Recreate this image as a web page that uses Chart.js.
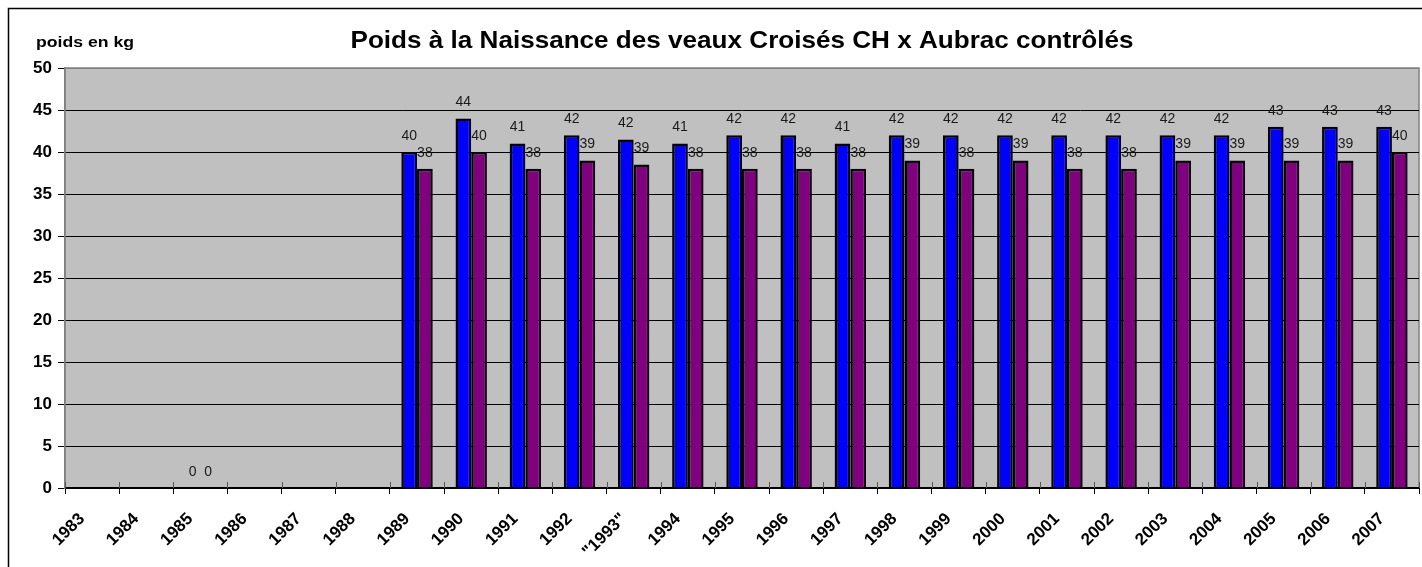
<!DOCTYPE html>
<html>
<head>
<meta charset="utf-8">
<script src="https://cdn.jsdelivr.net/npm/chart.js@4.4.0/dist/chart.umd.min.js"></script>
<style>
    html, body { margin: 0; padding: 0; background: #ffffff; }
    #chartDiv { width: 1422px; height: 567px; position: relative; }
</style>
</head>
<body>
<div id="chartDiv"><canvas id="poidsChart"></canvas></div>
<script>
const years = ["1983", "1984", "1985", "1986", "1987", "1988", "1989", "1990", "1991", "1992",
    "\"1993\"", "1994", "1995", "1996", "1997", "1998", "1999", "2000", "2001", "2002",
    "2003", "2004", "2005", "2006", "2007"];

// first series (blue) and second series (purple), kg
const poidsBleu = [null, null, 0, null, null, null, 40, 44, 41, 42,
    41.5, 41, 42, 42, 41, 42, 42, 42, 42, 42,
    42, 42, 43, 43, 43];
const poidsViolet = [null, null, 0, null, null, null, 38, 40, 38, 39,
    38.5, 38, 38, 38, 38, 39, 38, 39, 38, 38,
    39, 39, 39, 39, 40];

const yTicks = [0, 5, 10, 15, 20, 25, 30, 35, 40, 45, 50];

const titleText = "Poids à la Naissance des veaux Croisés CH x Aubrac contrôlés";
const yUnitText = "poids en kg";

const fontFamily = "'Liberation Sans', Arial, sans-serif";

// draws text squeezed/stretched to a wanted width (excel export looks wider)
const drawWideText = (ctx, text, x, y, size, width, align) => {
    ctx.save();
    ctx.font = "bold " + size + "px " + fontFamily;
    const natural = ctx.measureText(text).width;
    const sx = width / natural;
    ctx.translate(x, y);
    ctx.scale(sx, 1);
    ctx.textAlign = align;
    ctx.textBaseline = "alphabetic";
    ctx.fillStyle = "#000000";
    ctx.fillText(text, 0, 0);
    ctx.restore();
};

const excelLook = {
    id: "excelLook",
    beforeDraw: (chart) => {
        const ctx = chart.ctx;
        const area = chart.chartArea;
        ctx.save();
        ctx.fillStyle = "#ffffff";
        ctx.fillRect(0, 0, chart.width, chart.height);
        // outer frame
        ctx.strokeStyle = "#000000";
        ctx.lineWidth = 1.5;
        ctx.beginPath();
        ctx.moveTo(8.5, chart.height + 2);
        ctx.lineTo(8.5, 8.5);
        ctx.lineTo(chart.width + 2, 8.5);
        ctx.stroke();
        // grey plot background
        ctx.fillStyle = "#c0c0c0";
        ctx.fillRect(area.left, area.top, area.right - area.left, area.bottom - area.top);
        ctx.strokeStyle = "#808080";
        ctx.lineWidth = 1.5;
        ctx.strokeRect(area.left, area.top, area.right - area.left, area.bottom - area.top);
        ctx.restore();

        drawWideText(ctx, titleText, (area.left + area.right) / 2, 48, 24, 783, "center");
        drawWideText(ctx, yUnitText, 36, 47, 15, 98, "left");
    },
    afterDatasetsDraw: (chart) => {
        const ctx = chart.ctx;
        const area = chart.chartArea;
        const xScale = chart.scales.x;
        const half = (xScale.getPixelForValue(1) - xScale.getPixelForValue(0)) / 2;
        ctx.save();
        // small tick marks inside the plot on the category axis
        ctx.strokeStyle = "#555555";
        ctx.lineWidth = 1;
        for (let i = 0; i <= years.length; i++) {
            const x = Math.round(xScale.getPixelForValue(i) - half) + 0.5;
            ctx.beginPath();
            ctx.moveTo(x, area.bottom - 6);
            ctx.lineTo(x, area.bottom);
            ctx.stroke();
        }
        // value labels above the bars
        ctx.font = "14px " + fontFamily;
        ctx.fillStyle = "#1a1a1a";
        ctx.textAlign = "center";
        ctx.textBaseline = "middle";
        chart.data.datasets.forEach((dataset, dsIndex) => {
            const meta = chart.getDatasetMeta(dsIndex);
            meta.data.forEach((bar, index) => {
                const value = dataset.data[index];
                if (value === null || value === undefined) {
                    return;
                }
                ctx.fillText(String(Math.round(value)), bar.x, bar.y - 16);
            });
        });
        ctx.restore();
    },
};

const ctx = document.getElementById("poidsChart").getContext("2d");

const myChart = new Chart(ctx, {
    type: "bar",
    data: {
        labels: years,
        datasets: [
            {
                label: "Série 1",
                data: poidsBleu,
                backgroundColor: "#0000ff",
                borderColor: "#000000",
                borderWidth: 2.5,
                categoryPercentage: 0.58,
                barPercentage: 1,
            },
            {
                label: "Série 2",
                data: poidsViolet,
                backgroundColor: "#800080",
                borderColor: "#000000",
                borderWidth: 2.5,
                categoryPercentage: 0.58,
                barPercentage: 1,
            },
        ],
    },
    options: {
        responsive: true,
        maintainAspectRatio: false,
        animation: false,
        devicePixelRatio: 1,
        layout: {
            padding: { top: 68, right: 3, left: 0, bottom: 0 },
        },
        plugins: {
            legend: { display: false },
            title: { display: false },
            tooltip: { enabled: false },
        },
        scales: {
            x: {
                offset: true,
                grid: {
                    offset: true,
                    drawOnChartArea: false,
                    drawTicks: true,
                    tickLength: 6,
                    tickColor: "#000000",
                },
                border: { color: "#000000", width: 2 },
                ticks: {
                    maxRotation: 45,
                    minRotation: 45,
                    autoSkip: false,
                    padding: 15,
                    labelOffset: -10,
                    color: "#000000",
                    font: { family: fontFamily, size: 17, weight: "bold" },
                },
                afterFit: (scale) => {
                    scale.height = 79;
                },
            },
            y: {
                min: 0,
                max: 50,
                afterBuildTicks: (scale) => {
                    scale.ticks = yTicks.map((v) => ({ value: v }));
                },
                grid: {
                    color: (c) => (c.tick && c.tick.value === 50 ? "#808080" : "#000000"),
                    lineWidth: 1,
                    drawTicks: true,
                    tickLength: 7,
                    tickColor: "#000000",
                },
                border: { color: "#808080", width: 1.5 },
                ticks: {
                    padding: 6,
                    color: "#000000",
                    font: { family: fontFamily, size: 17, weight: "bold" },
                },
                afterFit: (scale) => {
                    scale.width = 65;
                },
            },
        },
    },
    plugins: [excelLook],
});

myChart.update();
</script>
</body>
</html>
